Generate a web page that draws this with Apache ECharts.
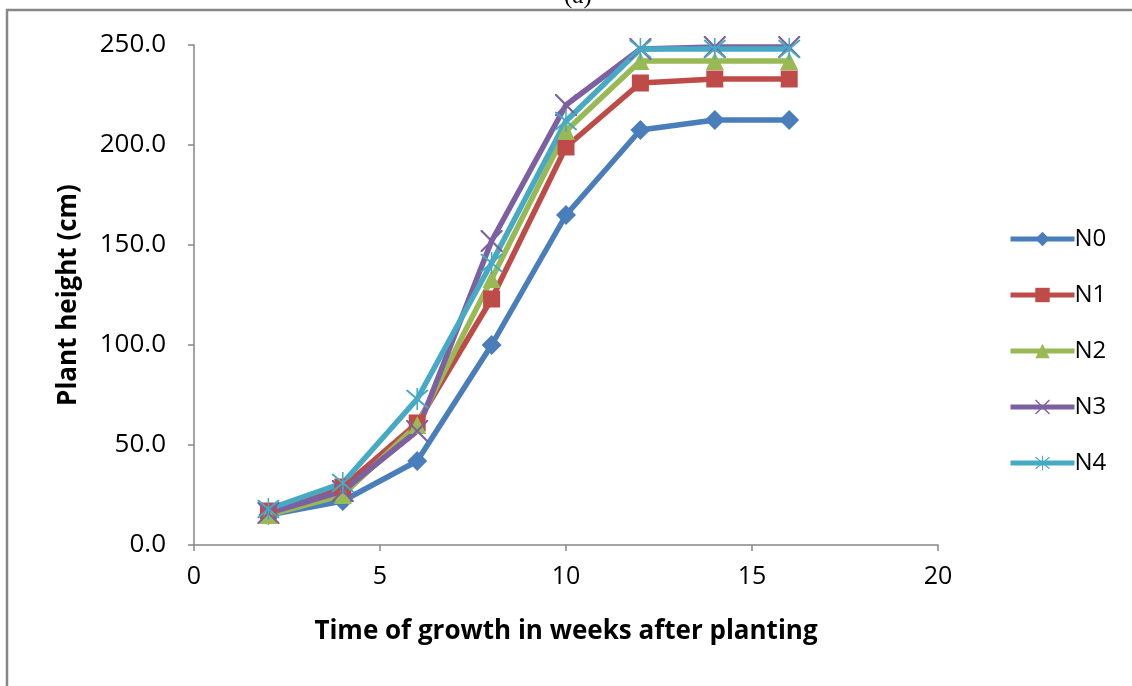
<!DOCTYPE html>
<html>
<head>
<meta charset="utf-8">
<script src="https://cdn.jsdelivr.net/npm/echarts@6/dist/echarts.min.js"></script>
<style>
html,body{margin:0;padding:0;background:#fff;}
#c{width:1132px;height:686px;}
</style>
</head>
<body>
<div id="c"></div>
<script>
const weeks = [2, 4, 6, 8, 10, 12, 14, 16];
const seriesNames = ['N0', 'N1', 'N2', 'N3', 'N4'];
const N0 = [15, 22, 42, 100, 165, 207.5, 212.5, 212.5];
const N1 = [17, 29, 61, 123, 199, 231, 233, 233];
const N2 = [15, 25, 60, 133, 207, 242, 242, 242];
const N3 = [16, 27, 57, 152, 220, 248, 249, 249];
const N4 = [18, 31, 73, 141, 212, 248, 248, 248];
const yTicks = [0, 50, 100, 150, 200, 250];
const xTicks = [0, 5, 10, 15, 20];

const values = [N0, N1, N2, N3, N4];
const colors = ['#4A7EBB', '#BE4B48', '#98B954', '#7D60A0', '#46AAC5'];
const xPath = 'path://M0,0 L1.4,0 L10,8.6 L18.6,0 L20,0 L20,1.4 L11.4,10 L20,18.6 L20,20 L18.6,20 L10,11.4 L1.4,20 L0,20 L0,18.6 L8.6,10 L0,1.4 Z';
const starPath = 'path://M0,0 L1.4,0 L10,8.6 L18.6,0 L20,0 L20,1.4 L11.4,10 L20,18.6 L20,20 L18.6,20 L10,11.4 L1.4,20 L0,20 L0,18.6 L8.6,10 L0,1.4 Z M9.3,-2 L10.7,-2 L10.7,22 L9.3,22 Z';
const symbols = ['diamond', 'rect', 'triangle', xPath, starPath];
const sizes = [20, 17, 18, 22, 22];

const font = '"Open Sans", Lato, sans-serif';
const chart = echarts.init(document.getElementById('c'));
chart.setOption({
  backgroundColor: '#fff',
  animation: false,
  grid: {left: 194, right: 194, top: 45, bottom: 141, containLabel: false},
  graphic: [
    {type: 'rect', shape: {x: 7, y: 10, width: 1300, height: 900}, style: {fill: 'none', stroke: '#878787', lineWidth: 2.5}, z: 100},
    {type: 'text', left: 564, top: -16, style: {text: '(a)', font: '25px "Liberation Serif", serif', fill: '#000'}}
  ],
  legend: {
    orient: 'vertical',
    left: 1003,
    top: 222,
    itemWidth: 64,
    itemHeight: 18,
    itemGap: 32,
    lineStyle: {width: 5},
    textStyle: {fontFamily: font, fontSize: 24, color: '#000', padding: [0, 0, 0, -5]},
    data: seriesNames
  },
  xAxis: {
    type: 'value',
    min: 0, max: 20, interval: 5,
    name: 'Time of growth in weeks after planting',
    nameLocation: 'middle',
    nameGap: 74,
    nameTextStyle: {fontFamily: font, fontWeight: 'bold', fontSize: 26, color: '#000'},
    axisLine: {show: true, lineStyle: {color: '#868686', width: 1.5}},
    axisTick: {show: true, length: 6, lineStyle: {color: '#868686', width: 1.5}},
    axisLabel: {fontFamily: font, fontSize: 25, color: '#000', margin: 19,
      formatter: v => xTicks.includes(v) ? String(v) : ''},
    splitLine: {show: false}
  },
  yAxis: {
    type: 'value',
    min: 0, max: 250, interval: 50,
    name: 'Plant height (cm)',
    nameLocation: 'middle',
    nameGap: 112,
    nameRotate: 90,
    nameTextStyle: {fontFamily: font, fontWeight: 'bold', fontSize: 26, color: '#000'},
    axisLine: {show: true, lineStyle: {color: '#868686', width: 1.5}},
    axisTick: {show: true, length: 6, lineStyle: {color: '#868686', width: 1.5}},
    axisLabel: {fontFamily: font, fontSize: 26, color: '#000', margin: 28,
      formatter: v => yTicks.includes(v) ? v.toFixed(1) : ''},
    splitLine: {show: false}
  },
  series: seriesNames.map((n, i) => ({
    name: n,
    type: 'line',
    data: weeks.map((w, j) => [w, values[i][j]]),
    symbol: symbols[i],
    symbolSize: sizes[i],
    showAllSymbol: true,
    clip: false,
    lineStyle: {color: colors[i], width: 5.5},
    itemStyle: {color: colors[i], borderWidth: 0},
    emphasis: {disabled: true}
  }))
});
</script>
</body>
</html>
